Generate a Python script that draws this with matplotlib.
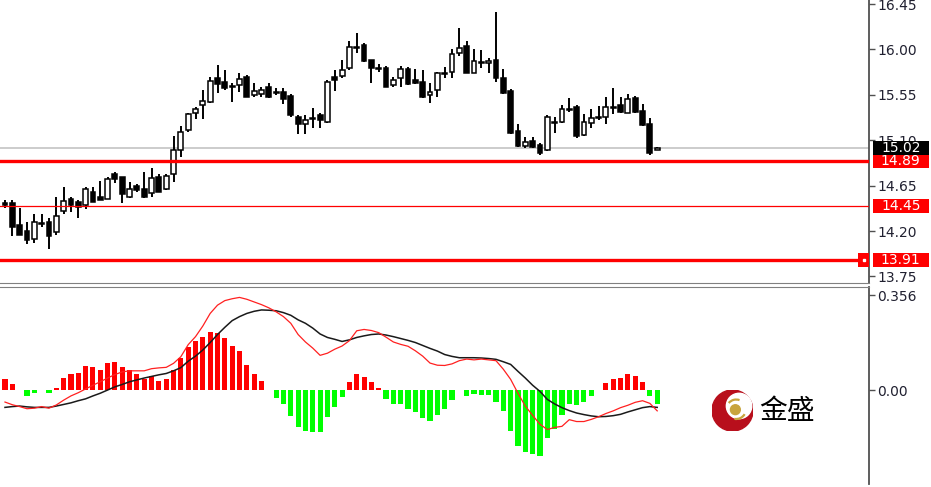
import numpy as np
import matplotlib
matplotlib.use("Agg")
import matplotlib.pyplot as plt
from matplotlib.patches import Rectangle, Circle, Arc
from matplotlib.transforms import blended_transform_factory

# daily candles
OPEN = [14.48, 14.48, 14.26, 14.20, 14.12, 14.28, 14.29, 14.19, 14.40, 14.52,
        14.49, 14.46, 14.59, 14.54, 14.52, 14.77, 14.74, 14.54, 14.65, 14.62,
        14.58, 14.74, 14.62, 14.77, 15.00, 15.20, 15.37, 15.45, 15.48, 15.72,
        15.68, 15.64, 15.65, 15.73, 15.55, 15.56, 15.63, 15.58, 15.58, 15.54,
        15.33, 15.26, 15.32, 15.35, 15.28, 15.73, 15.74, 15.82, 16.02, 16.04,
        15.90, 15.82, 15.82, 15.65, 15.72, 15.81, 15.70, 15.68, 15.55, 15.60,
        15.77, 15.78, 15.96, 16.03, 15.77, 15.88, 15.87, 15.90, 15.72, 15.59,
        15.19, 15.04, 15.09, 15.05, 15.00, 15.28, 15.28, 15.41, 15.43, 15.15,
        15.27, 15.33, 15.33, 15.43, 15.45, 15.37, 15.52, 15.39, 15.26, 15.005]
HIGH = [14.51, 14.51, 14.43, 14.29, 14.37, 14.37, 14.33, 14.54, 14.64, 14.54,
        14.51, 14.64, 14.64, 14.70, 14.74, 14.79, 14.74, 14.69, 14.67, 14.79,
        14.82, 14.77, 14.77, 15.14, 15.24, 15.37, 15.43, 15.60, 15.73, 15.85,
        15.80, 15.67, 15.77, 15.75, 15.67, 15.63, 15.67, 15.62, 15.62, 15.56,
        15.35, 15.35, 15.42, 15.37, 15.70, 15.80, 15.90, 16.08, 16.16, 16.06,
        15.90, 15.86, 15.84, 15.73, 15.84, 15.83, 15.81, 15.80, 15.67, 15.78,
        15.83, 16.00, 16.21, 16.08, 16.00, 15.99, 15.92, 16.37, 15.81, 15.61,
        15.26, 15.13, 15.13, 15.07, 15.35, 15.33, 15.45, 15.52, 15.45, 15.36,
        15.41, 15.44, 15.53, 15.62, 15.53, 15.56, 15.54, 15.46, 15.32, 15.03]
LOW = [14.43, 14.15, 14.16, 14.07, 14.08, 14.24, 14.02, 14.16, 14.37, 14.39,
       14.33, 14.42, 14.49, 14.51, 14.52, 14.68, 14.48, 14.53, 14.59, 14.53,
       14.54, 14.59, 14.61, 14.69, 14.93, 15.18, 15.31, 15.31, 15.47, 15.57,
       15.60, 15.48, 15.58, 15.53, 15.53, 15.53, 15.52, 15.55, 15.46, 15.33,
       15.16, 15.16, 15.22, 15.22, 15.27, 15.59, 15.72, 15.80, 15.96, 15.88,
       15.67, 15.78, 15.63, 15.63, 15.63, 15.65, 15.66, 15.52, 15.47, 15.53,
       15.72, 15.72, 15.93, 15.77, 15.77, 15.82, 15.77, 15.68, 15.56, 15.16,
       15.03, 15.02, 15.02, 14.95, 14.99, 15.17, 15.27, 15.38, 15.12, 15.14,
       15.22, 15.30, 15.26, 15.36, 15.37, 15.37, 15.37, 15.24, 14.95, 15.00]
CLOSE = [14.46, 14.24, 14.16, 14.11, 14.29, 14.27, 14.15, 14.35, 14.50, 14.46,
         14.44, 14.62, 14.49, 14.51, 14.72, 14.72, 14.57, 14.62, 14.61, 14.54,
         14.73, 14.59, 14.75, 15.00, 15.18, 15.36, 15.41, 15.49, 15.69, 15.66,
         15.62, 15.63, 15.71, 15.53, 15.59, 15.60, 15.53, 15.57, 15.51, 15.35,
         15.26, 15.30, 15.31, 15.30, 15.68, 15.70, 15.80, 16.02, 16.01, 15.89,
         15.82, 15.81, 15.63, 15.70, 15.81, 15.66, 15.67, 15.53, 15.58, 15.77,
         15.76, 15.95, 16.01, 15.77, 15.89, 15.87, 15.89, 15.72, 15.57, 15.17,
         15.04, 15.08, 15.03, 14.97, 15.33, 15.27, 15.41, 15.40, 15.14, 15.28,
         15.32, 15.32, 15.43, 15.42, 15.38, 15.51, 15.38, 15.25, 14.97, 15.025]

PRICE_TICKS = [13.75, 14.20, 14.65, 15.10, 15.55, 16.00, 16.45]
LAST_PRICE = 15.02
LEVELS = [14.89, 14.45, 13.91]

# MACD panel
MACD_HIST = [0.040, 0.021, 0.002, -0.022, -0.012, 0.002, -0.012, 0.006, 0.044, 0.059,
             0.065, 0.090, 0.085, 0.075, 0.100, 0.105, 0.085, 0.075, 0.060, 0.040,
             0.052, 0.035, 0.040, 0.075, 0.120, 0.160, 0.184, 0.197, 0.218, 0.215,
             0.194, 0.165, 0.146, 0.094, 0.059, 0.035, 0.002, -0.029, -0.054, -0.097,
             -0.137, -0.152, -0.159, -0.159, -0.102, -0.062, -0.027, 0.031, 0.060, 0.050,
             0.029, 0.009, -0.034, -0.052, -0.052, -0.072, -0.084, -0.106, -0.116, -0.094,
             -0.072, -0.037, 0.002, -0.022, -0.016, -0.019, -0.019, -0.044, -0.077, -0.152,
             -0.210, -0.231, -0.241, -0.246, -0.181, -0.146, -0.094, -0.052, -0.056, -0.044,
             -0.022, 0.002, 0.025, 0.040, 0.046, 0.060, 0.054, 0.031, -0.022, -0.052]
MACD_FAST = [-0.045, -0.055, -0.062, -0.070, -0.068, -0.062, -0.068, -0.056, -0.038, -0.022,
             -0.010, 0.004, 0.018, 0.031, 0.045, 0.058, 0.068, 0.072, 0.072, 0.072,
             0.080, 0.083, 0.085, 0.100, 0.125, 0.170, 0.200, 0.240, 0.287, 0.318,
             0.335, 0.342, 0.347, 0.340, 0.330, 0.320, 0.308, 0.293, 0.275, 0.250,
             0.208, 0.180, 0.157, 0.130, 0.138, 0.153, 0.165, 0.185, 0.222, 0.227,
             0.223, 0.215, 0.198, 0.180, 0.171, 0.164, 0.147, 0.127, 0.101, 0.093,
             0.092, 0.098, 0.110, 0.116, 0.113, 0.116, 0.113, 0.110, 0.078, 0.040,
             -0.012, -0.060, -0.095, -0.128, -0.148, -0.140, -0.136, -0.111, -0.118, -0.118,
             -0.110, -0.100, -0.088, -0.078, -0.066, -0.057, -0.046, -0.040, -0.050, -0.078]
MACD_SLOW = [-0.065, -0.062, -0.060, -0.063, -0.065, -0.065, -0.065, -0.060, -0.054, -0.048,
             -0.040, -0.033, -0.022, -0.012, 0.000, 0.012, 0.021, 0.031, 0.038, 0.045,
             0.051, 0.057, 0.062, 0.072, 0.084, 0.108, 0.127, 0.150, 0.178, 0.208,
             0.235, 0.260, 0.275, 0.287, 0.295, 0.300, 0.299, 0.297, 0.290, 0.280,
             0.263, 0.250, 0.232, 0.210, 0.197, 0.190, 0.182, 0.188, 0.197, 0.203,
             0.208, 0.210, 0.206, 0.200, 0.193, 0.186, 0.178, 0.167, 0.156, 0.146,
             0.133, 0.126, 0.121, 0.121, 0.121, 0.120, 0.118, 0.115, 0.106, 0.096,
             0.070, 0.045, 0.018, -0.005, -0.035, -0.052, -0.066, -0.077, -0.086, -0.092,
             -0.097, -0.100, -0.099, -0.096, -0.091, -0.082, -0.074, -0.066, -0.062, -0.065]
MACD_TICKS = [0.0, 0.356]

W, H = 931, 487
fig = plt.figure(figsize=(W / 100, H / 100), dpi=100)
fig.patch.set_facecolor("white")

ax = fig.add_axes([0, 1 - 283 / H, 869 / W, 283 / H])
ax2 = fig.add_axes([0, 1 - 484 / H, 869 / W, 197 / H])

o = np.array(OPEN)
c = np.array(CLOSE)
x = np.arange(len(o))
up = c >= o

# candles
ax.vlines(x, LOW, HIGH, color="black", lw=1.4, zorder=2)
body_lo = np.minimum(o, c)
body_h = np.maximum(np.abs(c - o), 0.008)
ax.bar(x, body_h, bottom=body_lo, width=0.66,
       color=np.where(up, "white", "black"), edgecolor="black", lw=1.1, zorder=3)

# price lines
ax.axhline(LAST_PRICE, color="#c4c4c4", lw=1.2, zorder=1)
for lvl, lw in zip(LEVELS, [2.4, 0.9, 2.4]):
    ax.axhline(lvl, color="#ff0000", lw=lw, zorder=4)

ax.set_xlim(-0.68, 117.9)
ax.set_ylim(13.685, 16.49)
ax.yaxis.tick_right()
ax.set_yticks(PRICE_TICKS)
ax.set_yticklabels([f"{t:.2f}" for t in PRICE_TICKS])
ax.set_xticks([])

tr = blended_transform_factory(ax.transAxes, ax.transData)
boxes = [(LAST_PRICE, "black")] + [(lvl, "#ff0000") for lvl in LEVELS]
for val, col in boxes:
    ax.add_patch(Rectangle((1.0046, val - 0.068), 0.064, 0.136, transform=tr,
                           facecolor=col, edgecolor="none", clip_on=False, zorder=6))
    ax.text(1.0046 + 0.032, val, f"{val:.2f}", transform=tr, color="white",
            fontsize=10, ha="center", va="center", clip_on=False, zorder=7)
# little handle on the lowest level line
ax.add_patch(Rectangle((0.9875, LEVELS[2] - 0.068), 0.0125, 0.136, transform=tr,
                       facecolor="#ff0000", edgecolor="none", clip_on=False, zorder=6))
ax.plot([0.9937], [LEVELS[2]], "s", ms=1.5, color="white", transform=tr, zorder=7,
        clip_on=False)

# MACD
hist_cols = ["#ff0000" if v >= 0 else "#00ff00" for v in MACD_HIST]
ax2.bar(x, MACD_HIST, width=0.7, color=hist_cols, zorder=2)
ax2.plot(x, MACD_SLOW, color="#1a1a1a", lw=1.1, zorder=3)
ax2.plot(x, MACD_FAST, color="#ff2020", lw=0.9, zorder=4)
ax2.set_xlim(-0.68, 117.9)
ax2.set_ylim(-0.352, 0.386)
ax2.yaxis.tick_right()
ax2.set_yticks(MACD_TICKS)
ax2.set_yticklabels(["0.00", "0.356"])
ax2.set_xticks([])

for a in (ax, ax2):
    a.set_facecolor("white")
    a.spines["left"].set_visible(False)
    a.spines["right"].set_color("#505050")
    a.spines["right"].set_linewidth(1.3)
    a.tick_params(axis="y", length=4, width=1, color="#505050",
                  labelsize=10, labelcolor="#202030", pad=2)
ax.spines["top"].set_visible(False)
ax.spines["bottom"].set_color("#808080")
ax2.spines["bottom"].set_visible(False)
ax2.spines["top"].set_color("#808080")

# logo
lg = fig.add_axes([712 / W, 1 - 431 / H, 41 / W, 41 / H])
lg.set_xlim(-1, 1)
lg.set_ylim(-1, 1)
lg.set_aspect("equal")
lg.axis("off")
lg.add_patch(Circle((0, 0), 1.0, color="#b80f1c"))
lg.add_patch(Circle((0.32, 0.22), 0.62, color="white"))
lg.add_patch(Circle((0.14, 0.04), 0.24, color="#c8a43c"))
lg.add_patch(Arc((0.18, 0.06), 0.95, 0.95, theta1=70, theta2=140, color="#c8a43c", lw=1.6))
lg.add_patch(Arc((0.18, 0.06), 0.95, 0.95, theta1=260, theta2=330, color="#c8a43c", lw=1.6))
fig.text(759 / W, 1 - 411 / H, "金盛", fontsize=20, color="black", ha="left", va="center",
         family=["Noto Sans CJK SC", "DejaVu Sans"])

fig.savefig("out.png", dpi=100)
